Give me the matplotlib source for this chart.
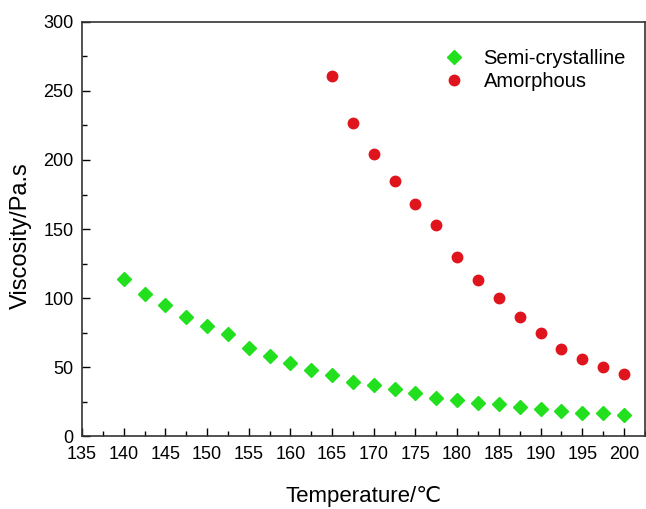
import matplotlib
matplotlib.use("Agg")
from matplotlib import pyplot as plt
from matplotlib.ticker import MultipleLocator

plt.rcParams['font.family'] = ['Liberation Sans', 'DejaVu Sans']

temp_semi = [140, 142.5, 145, 147.5, 150, 152.5, 155, 157.5, 160, 162.5, 165, 167.5, 170,
             172.5, 175, 177.5, 180, 182.5, 185, 187.5, 190, 192.5, 195, 197.5, 200]
visc_semi = [114, 103, 95, 86, 80, 74, 64, 58, 53, 48, 44, 39, 37,
             34, 31, 28, 26, 24, 23, 21, 20, 18, 17, 17, 15]

temp_amor = [165, 167.5, 170, 172.5, 175, 177.5, 180, 182.5, 185, 187.5, 190, 192.5, 195, 197.5, 200]
visc_amor = [261, 227, 204, 185, 168, 153, 130, 113, 100, 86, 75, 63, 56, 50, 45]

fig = plt.figure(figsize=(6.46, 5.09), dpi=100)
ax = fig.add_axes([0.127, 0.143, 0.871, 0.814])

ax.plot(temp_semi, visc_semi, 'D', color='#22e01e', markersize=7, label='Semi-crystalline')
ax.plot(temp_amor, visc_amor, 'o', color='#e0141c', markersize=7.5, label='Amorphous')

ax.set_xlim(135, 202.5)
ax.set_ylim(0, 300)
ax.xaxis.set_major_locator(MultipleLocator(5))
ax.xaxis.set_minor_locator(MultipleLocator(2.5))
ax.yaxis.set_major_locator(MultipleLocator(50))
ax.yaxis.set_minor_locator(MultipleLocator(25))
ax.tick_params(which='major', direction='in', length=6, width=1, labelsize=13)
ax.tick_params(axis='x', which='major', pad=7)
ax.tick_params(axis='y', which='major', pad=6)
ax.tick_params(which='minor', direction='in', length=3.5, width=1)
for s in ax.spines.values():
    s.set_linewidth(1.2)
    s.set_color('#333333')

ax.set_xlabel('Temperature/℃', fontsize=16)
ax.set_ylabel('Viscosity/Pa.s', fontsize=17)
ax.xaxis.set_label_coords(0.5, -0.12)
ax.yaxis.set_label_coords(-0.09, 0.485)

ax.legend(loc='upper right', frameon=False, fontsize=14.5, handletextpad=0.45,
          labelspacing=0.2, borderaxespad=0.0, bbox_to_anchor=(0.981, 0.955))

fig.savefig('out.png', dpi=100)
